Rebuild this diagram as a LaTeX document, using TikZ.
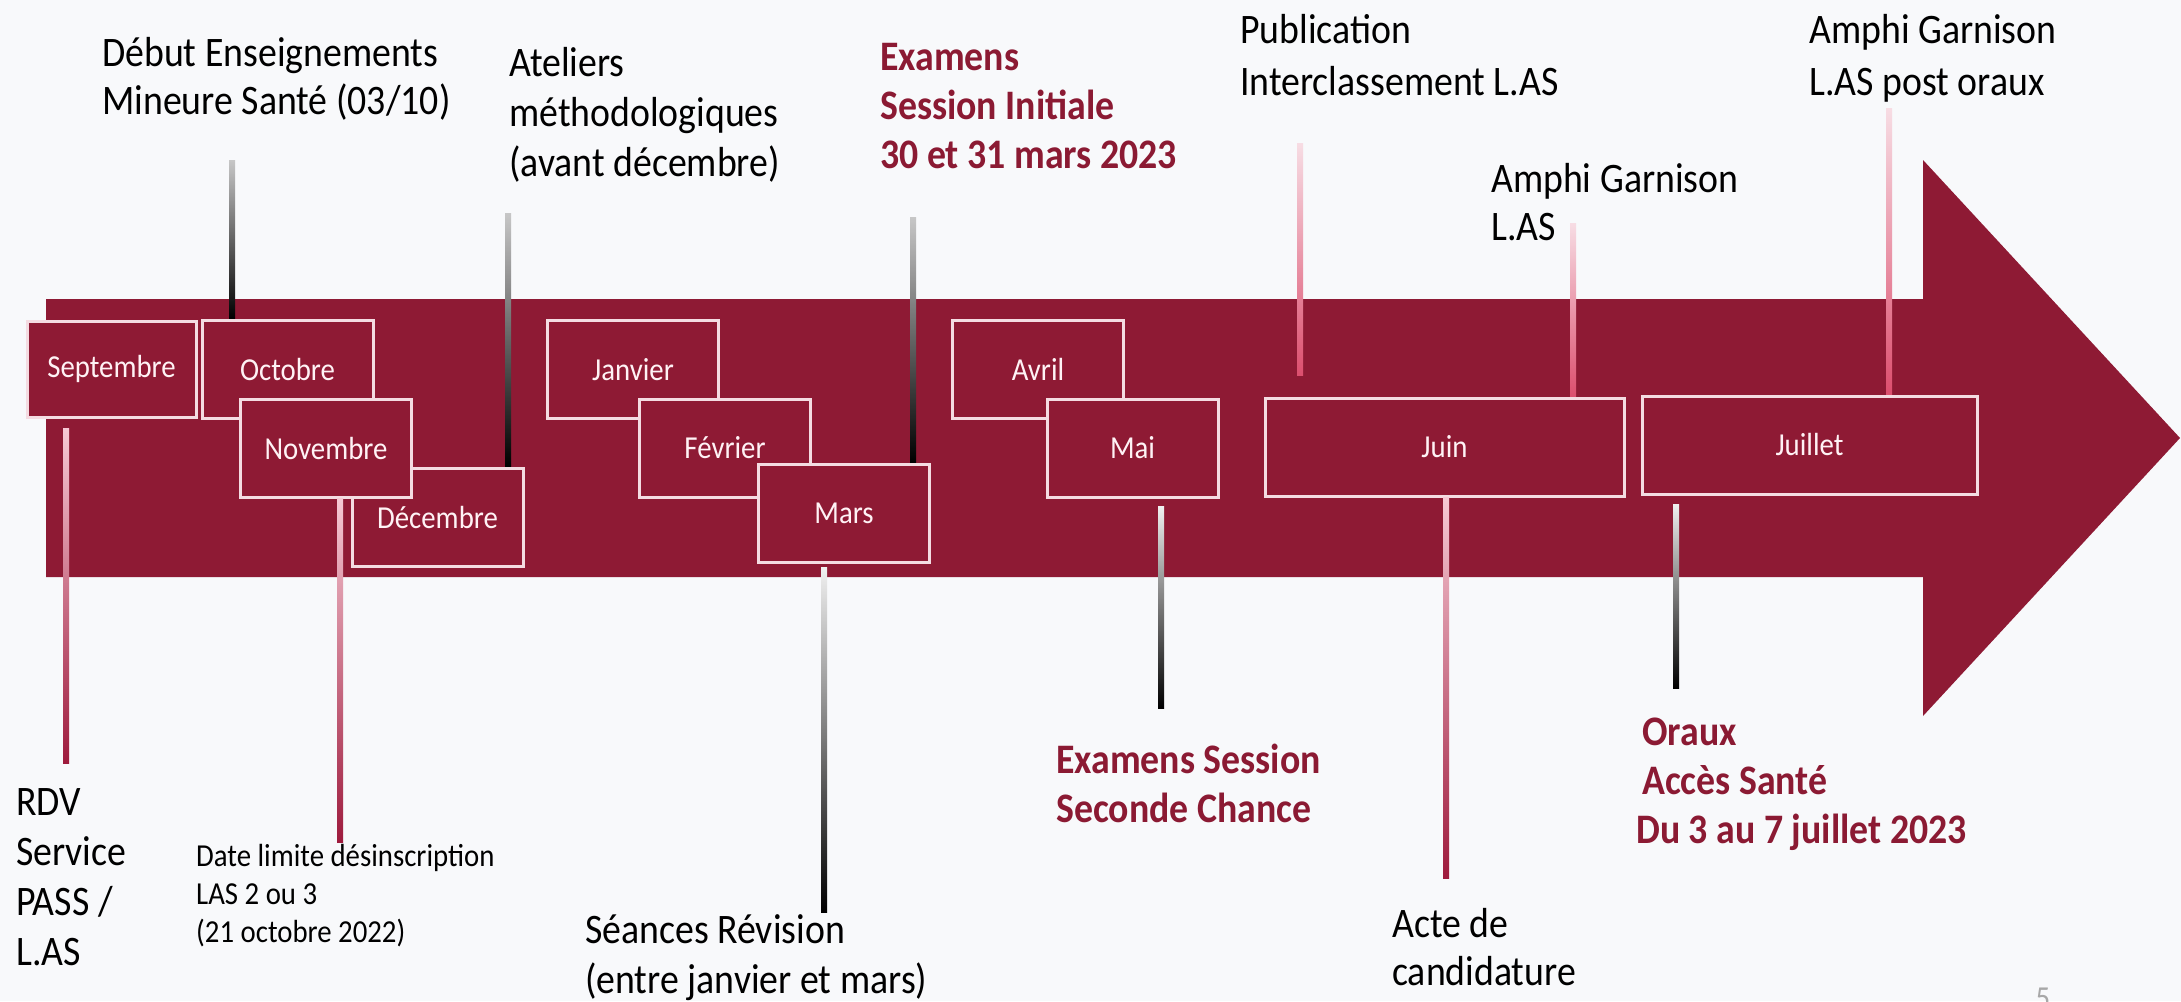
\documentclass[tikz,border=0pt]{standalone}
\usepackage{fontspec}
\setmainfont{Carlito}[FakeStretch=0.9]
\definecolor{bg}{HTML}{F8F9FB}
\definecolor{ared}{HTML}{8E1A34}
\definecolor{tred}{HTML}{8B1A33}
\definecolor{boxline}{HTML}{F4DCE2}
\definecolor{boxtext}{HTML}{FFF2F5}
\definecolor{ptop}{HTML}{F7DDE4}
\definecolor{pbot}{HTML}{DC4F6E}
\definecolor{qtop}{HTML}{F6C9D4}
\definecolor{qbot}{HTML}{9E1B3D}
\definecolor{pagenum}{HTML}{A8A8A8}
\newcommand\connector[3]{\shade[#1] ([xshift=-3pt]#2) rectangle ([xshift=3pt]#3);}
\begin{document}
\begin{tikzpicture}[x=1pt,y=-1pt,
  lbl/.style={anchor=north west, inner sep=0pt, align=left, font=\fontsize{42}{48}\selectfont, text=black},
  lblwide/.style={lbl, font=\fontsize{42}{50}\selectfont},
  lbltop/.style={lbl, font=\fontsize{42}{52}\selectfont},
  redlbl/.style={lbl, font=\fontsize{42}{49}\selectfont\bfseries, text=tred},
  smalllbl/.style={lbl, font=\fontsize{32}{38}\selectfont},
  month/.style={draw=boxline, line width=3pt, fill=ared, text=boxtext, minimum width=171pt, minimum height=98pt, inner sep=0pt, font=\fontsize{32}{38}\selectfont},
  gconn/.style={top color=black!22, bottom color=black},
  wconn/.style={top color=black!6, bottom color=black},
  pconn/.style={top color=ptop, bottom color=pbot},
  qconn/.style={top color=qtop, bottom color=qbot}
]
\useasboundingbox (0,0) rectangle (2181,1001);
\clip (0,0) rectangle (2181,1001);
\fill[bg] (0,0) rectangle (2181,1001);

% arrow
\fill[ared] (46,299) -- (1923,299) -- (1923,160) -- (2180,438) -- (1923,716) -- (1923,577) -- (46,577) -- cycle;

% connector end points
\coordinate (c1t) at (232,160);  \coordinate (c1b) at (232,318);
\coordinate (c2t) at (508,213);  \coordinate (c2b) at (508,466);
\coordinate (c3t) at (913,217);  \coordinate (c3b) at (913,462);
\coordinate (c4t) at (1300,143); \coordinate (c4b) at (1300,375);
\coordinate (c5t) at (1573,223); \coordinate (c5b) at (1573,396);
\coordinate (c6t) at (1889,108); \coordinate (c6b) at (1889,394);
\coordinate (c7t) at (66,428);   \coordinate (c7b) at (66,763);
\coordinate (c8t) at (340,498);  \coordinate (c8b) at (340,842);
\coordinate (c9t) at (824,567);  \coordinate (c9b) at (824,912);
\coordinate (c10t) at (1161,506); \coordinate (c10b) at (1161,708);
\coordinate (c11t) at (1446,497); \coordinate (c11b) at (1446,878);
\coordinate (c12t) at (1676,504); \coordinate (c12b) at (1676,688);

% upper connectors
\connector{gconn}{c1t}{c1b}
\connector{gconn}{c2t}{c2b}
\connector{gconn}{c3t}{c3b}
\connector{pconn}{c4t}{c4b}
\connector{pconn}{c5t}{c5b}
\connector{pconn}{c6t}{c6b}

% month boxes
\node[month, minimum width=169pt, minimum height=96pt] (sep) at (111.5,369) {Septembre};
\node[month] (oct) at (287.5,369.5) {Octobre};
\node[month] (dec) at (437.5,517) {Décembre};
\node[month] (nov) at (326,448) {Novembre};
\node[month] (jan) at (633,369.5) {Janvier};
\node[month] (fev) at (725,448) {Février};
\node[month] (mar) at (844,513) {Mars};
\node[month] (avr) at (1038,369.5) {Avril};
\node[month] (mai) at (1132.5,448) {Mai};
\node[month, minimum width=359pt] (juin) at (1444.5,447) {Juin};
\node[month, minimum width=335pt] (juil) at (1809.5,445) {Juillet};

% lower connectors
\connector{qconn}{c7t}{c7b}
\connector{qconn}{c8t}{c8b}
\connector{wconn}{c9t}{c9b}
\connector{wconn}{c10t}{c10b}
\connector{qconn}{c11t}{c11b}
\connector{wconn}{c12t}{c12b}

% upper labels
\node[lbl] (debut) at (102,33) {\strut Début Enseignements\\Mineure Santé (03/10)};
\node[lblwide] (ateliers) at (509,41) {\strut Ateliers\\méthodologiques\\(avant décembre)};
\node[redlbl] (examens) at (880,36) {\strut Examens\\Session Initiale\\30 et 31 mars 2023};
\node[lbltop] (publi) at (1240,7) {\strut Publication\\Interclassement L.AS};
\node[lbl] (amphi) at (1491,159) {\strut Amphi Garnison\\L.AS};
\node[lbltop] (amphipost) at (1809,7) {\strut Amphi Garnison\\L.AS post oraux};

% lower labels
\node[lblwide] (rdv) at (16,780) {\strut RDV\\Service\\PASS /\\L.AS};
\node[smalllbl] (datelim) at (196,840) {\strut Date limite désinscription\\LAS 2 ou 3\\(21 octobre 2022)};
\node[lblwide] (seances) at (585,908) {\strut Séances Révision\\(entre janvier et mars)};
\node[redlbl] (seconde) at (1056,739) {\strut Examens Session\\Seconde Chance};
\node[lbl] (acte) at (1392,904) {\strut Acte de\\candidature};
\node[redlbl] (oraux) at (1636,711) {\strut\hspace*{6pt}Oraux\\\hspace*{6pt}Accès Santé\\Du 3 au 7 juillet 2023};

\node[anchor=north, inner sep=0pt, font=\fontsize{32}{38}\selectfont, text=pagenum] (page) at (2043,988) {5};
\end{tikzpicture}
\end{document}
